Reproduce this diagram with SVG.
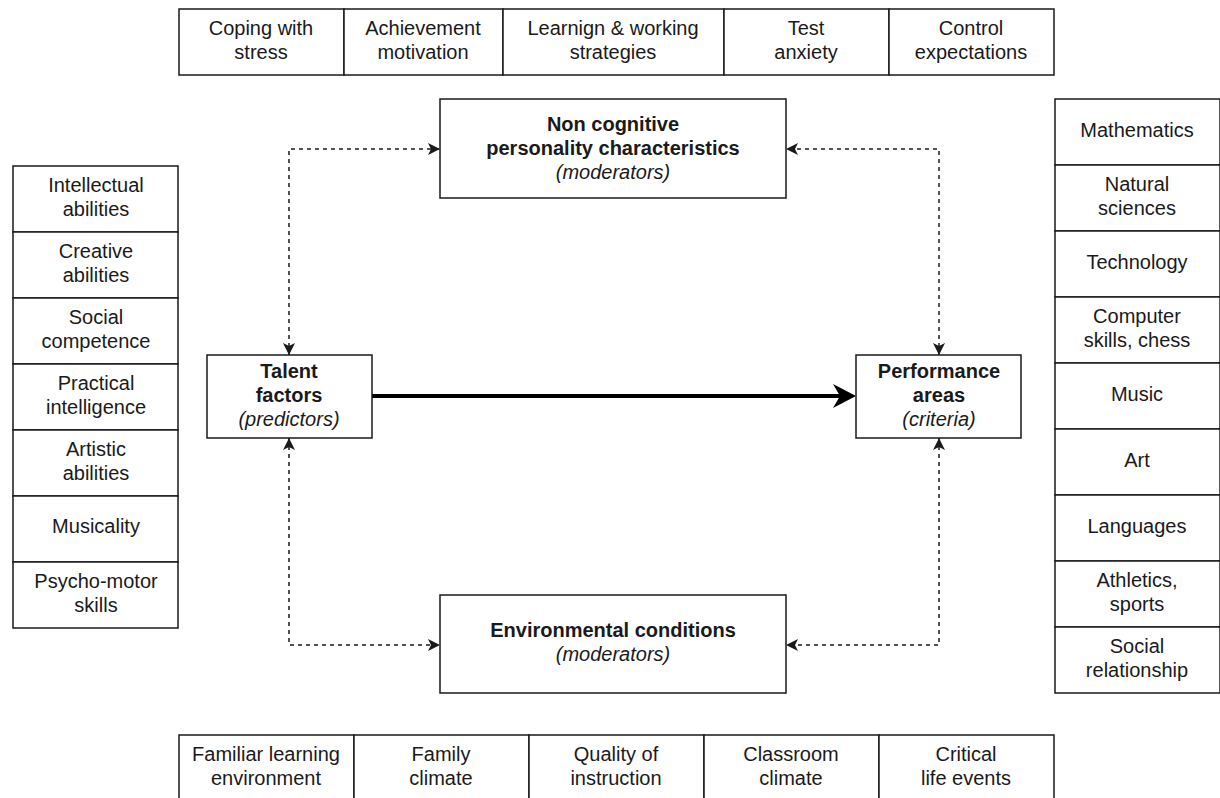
<svg xmlns="http://www.w3.org/2000/svg" width="1220" height="798" viewBox="0 0 1220 798">
<defs>
<style>
.b{fill:#fff;stroke:#1a1a1a;stroke-width:1.5}
text{font-family:"Liberation Sans",Arial,sans-serif;font-size:20px;fill:#1a1a1a;text-anchor:middle}
.bd{font-weight:bold}
.it{font-style:italic}
.d{fill:none;stroke:#1a1a1a;stroke-width:1.5;stroke-dasharray:4 4;marker-start:url(#ah);marker-end:url(#ah)}
</style>
<marker id="ah" viewBox="0 0 12 12" refX="12" refY="6" markerWidth="12" markerHeight="12" markerUnits="userSpaceOnUse" orient="auto-start-reverse">
<path d="M0,0 L12,6 L0,12 L3,6 z" fill="#1a1a1a"/>
</marker>
</defs>
<rect width="1220" height="798" fill="#fff"/>

<g id="top-row">
<g id="t1"><rect class="b" x="179" y="9" width="165" height="66"/><text x="261" y="35">Coping with</text><text x="261" y="59">stress</text></g>
<g id="t2"><rect class="b" x="344" y="9" width="159" height="66"/><text x="423" y="35">Achievement</text><text x="423" y="59">motivation</text></g>
<g id="t3"><rect class="b" x="503" y="9" width="221" height="66"/><text x="613" y="35">Learnign &amp; working</text><text x="613" y="59">strategies</text></g>
<g id="t4"><rect class="b" x="724" y="9" width="165" height="66"/><text x="806" y="35">Test</text><text x="806" y="59">anxiety</text></g>
<g id="t5"><rect class="b" x="889" y="9" width="165" height="66"/><text x="971" y="35">Control</text><text x="971" y="59">expectations</text></g>
</g>

<g id="left-col">
<g id="l1"><rect class="b" x="13" y="166" width="165" height="66"/><text x="96" y="192">Intellectual</text><text x="96" y="216">abilities</text></g>
<g id="l2"><rect class="b" x="13" y="232" width="165" height="66"/><text x="96" y="258">Creative</text><text x="96" y="282">abilities</text></g>
<g id="l3"><rect class="b" x="13" y="298" width="165" height="66"/><text x="96" y="324">Social</text><text x="96" y="348">competence</text></g>
<g id="l4"><rect class="b" x="13" y="364" width="165" height="66"/><text x="96" y="390">Practical</text><text x="96" y="414">intelligence</text></g>
<g id="l5"><rect class="b" x="13" y="430" width="165" height="66"/><text x="96" y="456">Artistic</text><text x="96" y="480">abilities</text></g>
<g id="l6"><rect class="b" x="13" y="496" width="165" height="66"/><text x="96" y="533">Musicality</text></g>
<g id="l7"><rect class="b" x="13" y="562" width="165" height="66"/><text x="96" y="588">Psycho-motor</text><text x="96" y="612">skills</text></g>
</g>

<g id="right-col">
<g id="r1"><rect class="b" x="1055" y="99" width="165" height="66"/><text x="1137" y="137">Mathematics</text></g>
<g id="r2"><rect class="b" x="1055" y="165" width="165" height="66"/><text x="1137" y="191">Natural</text><text x="1137" y="215">sciences</text></g>
<g id="r3"><rect class="b" x="1055" y="231" width="165" height="66"/><text x="1137" y="269">Technology</text></g>
<g id="r4"><rect class="b" x="1055" y="297" width="165" height="66"/><text x="1137" y="323">Computer</text><text x="1137" y="347">skills, chess</text></g>
<g id="r5"><rect class="b" x="1055" y="363" width="165" height="66"/><text x="1137" y="401">Music</text></g>
<g id="r6"><rect class="b" x="1055" y="429" width="165" height="66"/><text x="1137" y="467">Art</text></g>
<g id="r7"><rect class="b" x="1055" y="495" width="165" height="66"/><text x="1137" y="533">Languages</text></g>
<g id="r8"><rect class="b" x="1055" y="561" width="165" height="66"/><text x="1137" y="587">Athletics,</text><text x="1137" y="611">sports</text></g>
<g id="r9"><rect class="b" x="1055" y="627" width="165" height="66"/><text x="1137" y="653">Social</text><text x="1137" y="677">relationship</text></g>
</g>

<g id="bottom-row">
<g id="b1"><rect class="b" x="179" y="735" width="175" height="70"/><text x="266" y="761">Familiar learning</text><text x="266" y="785">environment</text></g>
<g id="b2"><rect class="b" x="354" y="735" width="175" height="70"/><text x="441" y="761">Family</text><text x="441" y="785">climate</text></g>
<g id="b3"><rect class="b" x="529" y="735" width="175" height="70"/><text x="616" y="761">Quality of</text><text x="616" y="785">instruction</text></g>
<g id="b4"><rect class="b" x="704" y="735" width="175" height="70"/><text x="791" y="761">Classroom</text><text x="791" y="785">climate</text></g>
<g id="b5"><rect class="b" x="879" y="735" width="175" height="70"/><text x="966" y="761">Critical</text><text x="966" y="785">life events</text></g>
</g>

<g id="connectors">
<path class="d" d="M289,355 L289,149 L440,149"/>
<path class="d" d="M939,355 L939,149 L786,149"/>
<path class="d" d="M289,438 L289,645 L440,645"/>
<path class="d" d="M939,438 L939,645 L786,645"/>
<line x1="372" y1="396" x2="842" y2="396" stroke="#000" stroke-width="4"/>
<path d="M856,396 L833,384 L840,396 L833,408 z" fill="#000"/>
</g>

<g id="noncog"><rect class="b" x="440" y="99" width="346" height="99"/><text class="bd" x="613" y="131">Non cognitive</text><text class="bd" x="613" y="155">personality characteristics</text><text class="it" x="613" y="179">(moderators)</text></g>
<g id="env"><rect class="b" x="440" y="595" width="346" height="98"/><text class="bd" x="613" y="637">Environmental conditions</text><text class="it" x="613" y="661">(moderators)</text></g>
<g id="talent"><rect class="b" x="207" y="355" width="165" height="83"/><text class="bd" x="289" y="378">Talent</text><text class="bd" x="289" y="402">factors</text><text class="it" x="289" y="426">(predictors)</text></g>
<g id="perf"><rect class="b" x="856" y="355" width="165" height="83"/><text class="bd" x="939" y="378">Performance</text><text class="bd" x="939" y="402">areas</text><text class="it" x="939" y="426">(criteria)</text></g>
</svg>
